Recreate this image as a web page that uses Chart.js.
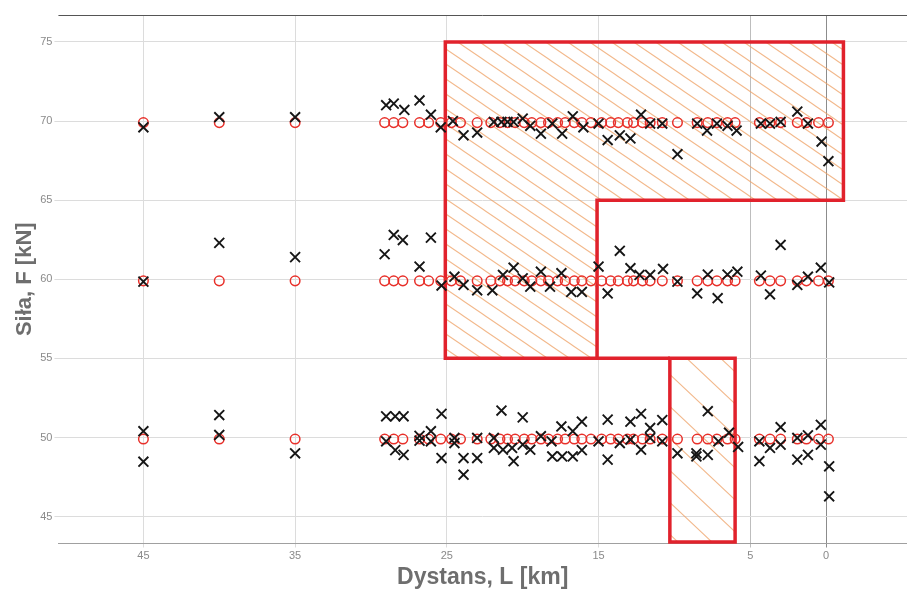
<!DOCTYPE html>
<html>
<head>
<meta charset="utf-8">
<script src="https://cdn.jsdelivr.net/npm/chart.js@4/dist/chart.umd.min.js"></script>
<style>
  html, body { margin: 0; padding: 0; background: #ffffff; }
  #wrap { width: 907px; height: 590px; }
</style>
</head>
<body>
<div id="wrap"><canvas id="c" width="907" height="590"></canvas></div>
<script>
// ---- tick labels ----
const xTickValues = [45, 35, 25, 15, 5, 0];
const yTickValues = [45, 50, 55, 60, 65, 70, 75];

// ---- nominal loads (red circles) ----
const circleDist = [45, 40, 35, 29.1, 28.5, 27.9, 26.8, 26.2, 25.4, 24.7, 24.1, 23.0, 22.1, 21.5, 21.0, 20.5,
  19.9, 19.4, 18.8, 18.3, 17.7, 17.2, 16.6, 16.1, 15.5, 14.8, 14.2, 13.7, 13.1, 12.7, 12.1, 11.6, 10.8, 9.8,
  8.5, 7.8, 7.2, 6.5, 6.0, 4.4, 3.7, 3.0, 1.9, 1.3, 0.5, -0.15];
const nominalForce = [69.9, 59.9, 49.9];

// ---- measured loads (black crosses), per load level ----
const distRow70 = [45, 40, 35, 29.0, 28.5, 27.8, 26.8, 26.05, 25.4, 24.6, 23.9, 23.0, 21.9, 21.4, 21.0, 20.6,
  20.0, 19.5, 18.8, 18.05, 17.4, 16.7, 16.0, 15.0, 14.4, 13.6, 12.9, 12.2, 11.6, 10.8, 9.8, 8.5, 7.85, 7.2,
  6.5, 5.9, 4.3, 3.7, 3.0, 1.9, 1.2, 0.3, -0.15];
const forceRow70 = [69.6, 70.24, 70.24, 71.0, 71.1, 70.7, 71.3, 70.4, 69.6, 70.0, 69.1, 69.27, 69.94, 69.94, 69.94, 69.94,
  70.15, 69.7, 69.2, 69.84, 69.2, 70.3, 69.6, 69.84, 68.8, 69.1, 68.9, 70.4, 69.84, 69.84, 67.9, 69.84, 69.4, 69.84,
  69.7, 69.4, 69.84, 69.84, 69.94, 70.6, 69.84, 68.7, 67.46];

const distRow60 = [45, 40, 35, 29.1, 28.5, 27.9, 26.8, 26.05, 25.35, 24.5, 23.9, 23.0, 22.0, 21.3, 20.6, 20.0,
  19.5, 18.8, 18.2, 17.45, 16.8, 16.1, 15.0, 14.4, 13.6, 12.9, 12.3, 11.6, 10.75, 9.8, 8.5, 7.8, 7.15, 6.5,
  5.85, 4.3, 3.7, 3.0, 1.9, 1.2, 0.35, -0.2];
const forceRow60 = [59.85, 62.3, 61.4, 61.58, 62.8, 62.48, 60.8, 62.63, 59.6, 60.16, 59.64, 59.3, 59.3, 60.27, 60.73, 60.06,
  59.53, 60.48, 59.53, 60.38, 59.2, 59.2, 60.8, 59.1, 61.8, 60.7, 60.27, 60.27, 60.65, 59.85, 59.1, 60.3, 58.8, 60.3,
  60.48, 60.23, 59.05, 62.17, 59.64, 60.16, 60.73, 59.8];

const distRow50 = [45, 45, 40, 40, 35, 29.0, 28.4, 27.85, 25.35, 21.4, 20.0, 29.0, 28.4, 27.85, 26.8, 26.8,
  26.05, 26.05, 25.35, 24.5, 24.5, 23.9, 23.9, 23.0, 23.0, 21.9, 21.9, 21.3, 20.7, 20.6, 20.0, 19.5, 18.8,
  18.1, 18.05, 17.45, 17.4, 16.7, 16.7, 16.1, 16.1, 15.0, 14.4, 14.4, 13.6, 12.9, 12.9, 12.2, 12.2, 11.6,
  11.6, 10.8, 10.8, 9.8, 8.55, 8.55, 7.8, 7.8, 7.1, 6.4, 5.8, 4.4, 4.4, 3.7, 3.0, 3.0, 1.9, 1.9, 1.2, 1.2,
  0.35, 0.35, -0.2, -0.2];
const forceRow50 = [50.4, 48.47, 51.42, 50.16, 49.0, 51.34, 51.34, 51.34, 51.5, 51.7, 51.27, 49.76, 49.2, 48.9, 50.1, 49.8,
  50.4, 49.76, 48.7, 49.97, 49.65, 48.7, 47.65, 49.97, 48.7, 49.97, 49.34, 49.23, 49.34, 48.5, 49.55, 49.23, 50.08,
  49.76, 48.8, 50.7, 48.8, 50.4, 48.8, 51.0, 49.2, 49.76, 51.13, 48.6, 49.65, 51.0, 49.87, 51.5, 49.23, 50.6,
  49.97, 51.1, 49.76, 49.0, 49.0, 48.8, 51.66, 48.9, 49.76, 50.3, 49.4, 49.76, 48.5, 49.34, 50.65, 49.55, 49.97, 48.6, 50.14, 48.9,
  50.8, 49.55, 48.18, 46.28];

// ---- hatched zones (data units: km, kN) ----
const zoneADist = [25.1, -1.14, -1.14, 15.1, 15.1, 25.1];
const zoneAForce = [75, 75, 65, 65, 55, 55];
const zoneBDist = [10.3, 6.0, 6.0, 10.3];
const zoneBForce = [55, 55, 43.4, 43.4];
const linkDist = [15.1, 10.3];
const linkForce = [55, 55];

function pts(xs, ys) { return xs.map((x, i) => ({ x: x, y: ys[i] })); }

const circlePoints = [];
nominalForce.forEach(f => circleDist.forEach(d => circlePoints.push({ x: d, y: f })));
const crossPoints = [].concat(pts(distRow70, forceRow70), pts(distRow60, forceRow60), pts(distRow50, forceRow50));

function makeHatch(w, h, color) {
  const c = document.createElement('canvas');
  c.width = w; c.height = h;
  const g = c.getContext('2d');
  g.strokeStyle = color;
  g.lineWidth = 1.1;
  g.beginPath();
  g.moveTo(-w, -h); g.lineTo(2 * w, 2 * h);
  g.moveTo(-w, 0); g.lineTo(w, 2 * h);
  g.moveTo(0, -h); g.lineTo(2 * w, h);
  g.stroke();
  return g.createPattern(c, 'repeat');
}

const zonesPlugin = {
  id: 'zones',
  beforeDatasetsDraw(chart) {
    const ctx = chart.ctx, xs = chart.scales.x, ys = chart.scales.y, a = chart.chartArea;
    const path = (dl, fl, close) => {
      ctx.beginPath();
      dl.forEach((d, i) => {
        const px = xs.getPixelForValue(d), py = ys.getPixelForValue(fl[i]);
        if (i === 0) ctx.moveTo(px, py); else ctx.lineTo(px, py);
      });
      if (close) ctx.closePath();
    };
    ctx.save();
    // top frame line
    ctx.strokeStyle = '#555555';
    ctx.lineWidth = 1;
    ctx.beginPath();
    ctx.moveTo(a.left, a.top + 0.5); ctx.lineTo(a.right, a.top + 0.5);
    ctx.stroke();

    ctx.fillStyle = makeHatch(22, 15, 'rgba(238,160,100,0.75)');
    path(zoneADist, zoneAForce, true); ctx.fill();
    ctx.fillStyle = makeHatch(34, 32, 'rgba(238,160,100,0.75)');
    path(zoneBDist, zoneBForce, true); ctx.fill();

    ctx.strokeStyle = '#e1222c';
    ctx.lineWidth = 3.5;
    ctx.lineJoin = 'miter';
    path(zoneADist, zoneAForce, true); ctx.stroke();
    path(zoneBDist, zoneBForce, true); ctx.stroke();
    path(linkDist, linkForce, false); ctx.stroke();
    ctx.restore();
  }
};

const font = "'Liberation Sans', Arial, sans-serif";

new Chart(document.getElementById('c'), {
  type: 'scatter',
  data: {
    datasets: [
      {
        label: 'pomiar',
        data: crossPoints,
        pointStyle: 'crossRot',
        pointRadius: 7,
        pointBorderWidth: 1.9,
        borderColor: '#161616',
        backgroundColor: '#161616'
      },
      {
        label: 'nominalna',
        data: circlePoints,
        pointStyle: 'circle',
        pointRadius: 4.8,
        pointBorderWidth: 1.5,
        borderColor: '#e8302a',
        backgroundColor: 'rgba(0,0,0,0)'
      }
    ]
  },
  options: {
    responsive: false,
    animation: false,
    layout: { autoPadding: false, padding: { top: 15, right: 0, left: 0, bottom: 0 } },
    plugins: { legend: { display: false }, tooltip: { enabled: false } },
    scales: {
      x: {
        type: 'linear',
        reverse: true,
        min: -5.33,
        max: 50.6,
        afterBuildTicks: axis => { axis.ticks = xTickValues.map(v => ({ value: v })); },
        grid: {
          color: ctx => (ctx.tick && ctx.tick.value === 0) ? '#8c8c8c' : (ctx.tick && ctx.tick.value === 5 ? '#bdbdbd' : '#dcdcdc'),
          tickLength: 4
        },
        border: { display: true, color: '#a0a0a0' },
        ticks: { color: '#8a8a8a', font: { family: font, size: 11 }, padding: 2, maxRotation: 0, autoSkip: false },
        title: {
          display: true, text: 'Dystans, L [km]', color: '#6e6e6e',
          font: { family: font, size: 23, weight: 'bold', lineHeight: 1.1 }, padding: { top: 0, bottom: 0 }
        }
      },
      y: {
        type: 'linear',
        min: 43.3,
        max: 76.7,
        afterBuildTicks: axis => { axis.ticks = yTickValues.map(v => ({ value: v })); },
        grid: { color: '#dcdcdc', tickLength: 4 },
        border: { display: false },
        ticks: { color: '#8a8a8a', font: { family: font, size: 11 }, padding: 2 },
        title: {
          display: true, text: 'Siła, F [kN]', color: '#6e6e6e',
          font: { family: font, size: 22, weight: 'bold', lineHeight: 1.1 }, padding: { top: 13, bottom: 1 }
        }
      }
    }
  },
  plugins: [zonesPlugin]
});
</script>
</body>
</html>
